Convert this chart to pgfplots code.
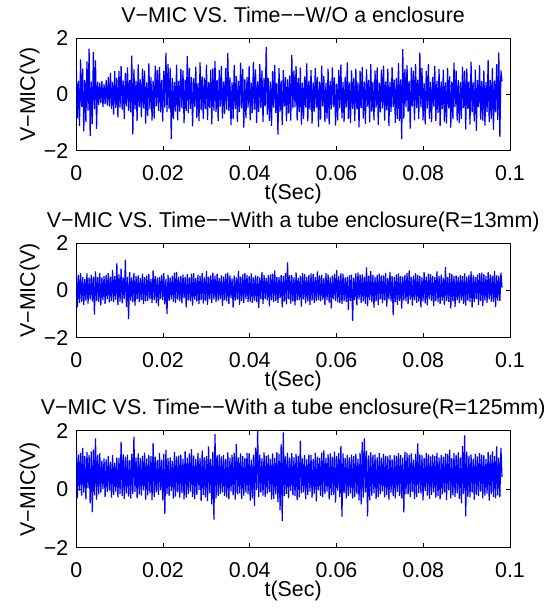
\documentclass[border=0pt]{standalone}
\usepackage{fontspec}
\setmainfont{Liberation Sans}
\usepackage{pgfplots}
\usepackage{pgfplotstable}
\pgfplotsset{compat=1.18}

% V-MIC samples (one every 0.000246 s)
\pgfplotstableread[row sep=\\]{v\\
1.02\\ -0.85\\ 0.48\\ -1.12\\ 1.25\\ -0.44\\ 0.92\\ -1.31\\ 0.51\\ -0.98\\ 1.18\\ -0.57\\ 1.63\\ -1.48\\ 0.46\\ -1.05\\ 1.52\\ -0.52\\ 1.21\\ -1.22\\
0.46\\ -0.38\\ 0.42\\ -0.31\\ 0.48\\ -0.45\\ 0.37\\ -0.34\\ 0.51\\ -0.39\\ 0.62\\ -0.43\\ 0.78\\ -0.51\\ 0.45\\ -0.72\\ 0.84\\ -0.48\\ 0.59\\ -0.81\\
0.83\\ -0.47\\ 1.02\\ -0.54\\ 0.49\\ -0.88\\ 0.77\\ -0.42\\ 0.96\\ -0.59\\ 0.51\\ -0.64\\ 1.38\\ -1.42\\ 0.89\\ -0.53\\ 0.48\\ -0.95\\ 1.07\\ -0.46\\
0.54\\ -0.81\\ 0.92\\ -0.49\\ 0.85\\ -1.04\\ 0.43\\ -0.77\\ 1.11\\ -0.52\\ 0.61\\ -0.93\\ 0.49\\ -0.86\\ 1.03\\ -0.41\\ 0.88\\ -0.58\\ 0.97\\ -0.64\\
0.52\\ -0.96\\ 0.84\\ -0.47\\ 1.48\\ -0.63\\ 1.09\\ -0.51\\ 0.93\\ -1.58\\ 0.59\\ -0.88\\ 0.44\\ -0.61\\ 1.06\\ -0.92\\ 0.48\\ -0.61\\ 0.91\\ -0.49\\
0.86\\ -1.02\\ 0.53\\ -0.59\\ 1.37\\ -0.66\\ 0.95\\ -0.51\\ 0.62\\ -1.13\\ 0.57\\ -0.44\\ 0.99\\ -0.83\\ 0.41\\ -0.95\\ 1.14\\ -0.56\\ 0.64\\ -0.88\\
0.59\\ -0.52\\ 1.06\\ -0.91\\ 0.44\\ -0.48\\ 0.88\\ -1.06\\ 0.93\\ -0.57\\ 1.19\\ -0.62\\ 0.51\\ -0.95\\ 0.87\\ -0.43\\ 1.02\\ -0.86\\ 0.46\\ -0.69\\
0.94\\ -0.54\\ 1.47\\ -0.59\\ 0.61\\ -1.09\\ 0.43\\ -0.88\\ 1.05\\ -0.51\\ 0.65\\ -0.97\\ 0.48\\ -0.62\\ 1.13\\ -0.49\\ 0.91\\ -1.18\\ 0.55\\ -0.84\\
0.63\\ -0.47\\ 1.01\\ -0.92\\ 0.42\\ -0.66\\ 1.16\\ -0.54\\ 0.89\\ -1.02\\ 0.47\\ -0.63\\ 1.08\\ -0.49\\ 0.86\\ -0.97\\ 0.59\\ -0.42\\ 1.69\\ -0.72\\
0.58\\ -0.94\\ 0.46\\ -1.12\\ 0.83\\ -0.47\\ 1.05\\ -0.65\\ 0.41\\ -1.43\\ 0.94\\ -0.61\\ 0.49\\ -1.09\\ 0.87\\ -0.43\\ 0.62\\ -0.96\\ 0.54\\ -0.67\\
0.67\\ -0.93\\ 1.41\\ -0.49\\ 0.85\\ -0.44\\ 1.01\\ -0.92\\ 0.58\\ -0.63\\ 0.96\\ -1.07\\ 0.42\\ -0.88\\ 0.64\\ -0.46\\ 1.11\\ -0.95\\ 0.49\\ -0.54\\
0.87\\ -1.04\\ 0.43\\ -0.61\\ 0.94\\ -0.47\\ 0.62\\ -1.15\\ 0.46\\ -0.89\\ 1.03\\ -0.42\\ 0.65\\ -0.98\\ 0.41\\ -0.86\\ 0.92\\ -1.06\\ 0.48\\ -0.53\\
0.96\\ -0.44\\ 0.61\\ -1.11\\ 0.39\\ -0.92\\ 0.87\\ -0.49\\ 1.07\\ -0.85\\ 0.44\\ -0.97\\ 0.63\\ -0.46\\ 1.14\\ -0.88\\ 0.42\\ -1.02\\ 0.86\\ -0.51\\
0.59\\ -0.95\\ 0.91\\ -0.53\\ 0.43\\ -1.17\\ 0.84\\ -0.48\\ 0.98\\ -0.86\\ 0.46\\ -1.05\\ 0.89\\ -0.43\\ 0.52\\ -0.99\\ 1.08\\ -0.61\\ 0.44\\ -0.92\\
0.85\\ -0.47\\ 0.96\\ -1.08\\ 0.42\\ -0.64\\ 0.88\\ -0.49\\ 1.03\\ -0.93\\ 0.47\\ -0.56\\ 0.91\\ -1.12\\ 0.45\\ -0.62\\ 0.97\\ -0.44\\ 0.53\\ -1.01\\
0.59\\ -0.88\\ 1.12\\ -0.95\\ 0.54\\ -1.59\\ 1.61\\ -0.86\\ 0.91\\ -0.44\\ 1.04\\ -0.62\\ 0.47\\ -1.21\\ 0.96\\ -0.43\\ 0.85\\ -0.92\\ 1.09\\ -0.48\\
0.53\\ -0.87\\ 1.49\\ -0.46\\ 0.95\\ -0.92\\ 0.41\\ -1.06\\ 0.84\\ -0.49\\ 1.09\\ -0.87\\ 0.45\\ -0.98\\ 0.63\\ -0.42\\ 1.02\\ -0.94\\ 0.48\\ -0.65\\
0.91\\ -1.13\\ 0.46\\ -0.52\\ 0.88\\ -0.97\\ 0.43\\ -1.04\\ 0.95\\ -0.49\\ 0.64\\ -1.18\\ 0.47\\ -0.88\\ 1.13\\ -0.44\\ 0.86\\ -0.93\\ 0.51\\ -1.02\\
0.44\\ -0.87\\ 0.99\\ -0.48\\ 0.85\\ -1.24\\ 0.92\\ -0.51\\ 0.47\\ -1.07\\ 1.17\\ -0.64\\ 0.43\\ -0.96\\ 0.88\\ -1.29\\ 0.51\\ -0.45\\ 1.04\\ -0.89\\
0.48\\ -0.93\\ 0.86\\ -1.11\\ 0.44\\ -0.62\\ 1.23\\ -0.97\\ 0.51\\ -0.88\\ 0.95\\ -1.26\\ 0.49\\ -0.64\\ 1.08\\ -0.91\\ 1.49\\ -1.52\\ 0.86\\ 0.47\\
}\dataA

\pgfplotstableread[row sep=\\]{v\\
0.88\\ -0.71\\ 0.65\\ -0.52\\ 0.74\\ -0.48\\ 0.57\\ -0.61\\ 0.49\\ -0.43\\ 0.72\\ -0.56\\ 0.54\\ -0.38\\ 0.66\\ -0.46\\ 0.59\\ -1.02\\ 0.81\\ -0.45\\
0.57\\ -0.48\\ 0.74\\ -0.63\\ 0.55\\ -0.41\\ 0.62\\ -0.57\\ 0.66\\ -0.36\\ 0.73\\ -0.51\\ 0.59\\ -0.44\\ 0.86\\ -0.49\\ 0.61\\ -0.39\\ 1.15\\ -0.62\\
0.68\\ -0.47\\ 0.93\\ -0.54\\ 0.55\\ -0.36\\ 1.31\\ -0.69\\ 0.57\\ -1.21\\ 0.78\\ -0.43\\ 0.56\\ -0.49\\ 0.73\\ -0.64\\ 0.61\\ -0.38\\ 0.64\\ -0.49\\
0.52\\ -0.42\\ 0.71\\ -0.58\\ 0.57\\ -0.46\\ 0.63\\ -0.44\\ 0.69\\ -0.37\\ 0.48\\ -0.52\\ 0.85\\ -0.41\\ 0.61\\ -0.53\\ 0.54\\ -0.67\\ 0.58\\ -0.36\\
0.66\\ -0.41\\ 0.73\\ -0.59\\ 0.49\\ -0.99\\ 0.67\\ -0.44\\ 0.54\\ -0.38\\ 0.62\\ -0.48\\ 0.76\\ -0.52\\ 0.79\\ -0.39\\ 0.58\\ -0.45\\ 0.62\\ -0.55\\
0.67\\ -0.33\\ 0.58\\ -0.71\\ 0.69\\ -0.42\\ 0.55\\ -0.46\\ 0.71\\ -0.64\\ 0.74\\ -0.39\\ 0.53\\ -0.47\\ 0.66\\ -0.58\\ 0.62\\ -0.41\\ 0.75\\ -0.55\\
0.55\\ -0.44\\ 0.82\\ -0.61\\ 0.59\\ -0.37\\ 0.64\\ -0.52\\ 0.76\\ -0.38\\ 0.63\\ -0.49\\ 0.71\\ -0.43\\ 0.52\\ -0.37\\ 0.64\\ -0.65\\ 0.59\\ -0.42\\
0.71\\ -0.46\\ 0.76\\ -0.58\\ 0.64\\ -0.32\\ 0.51\\ -0.72\\ 0.63\\ -0.43\\ 0.55\\ -0.39\\ 0.83\\ -0.61\\ 0.59\\ -0.44\\ 0.68\\ -0.53\\ 0.74\\ -0.35\\
0.66\\ -0.48\\ 0.61\\ -0.47\\ 0.72\\ -0.52\\ 0.56\\ -0.43\\ 0.64\\ -0.49\\ 0.61\\ -0.74\\ 0.55\\ -0.37\\ 0.79\\ -0.57\\ 0.66\\ -0.36\\ 0.53\\ -0.42\\
0.65\\ -0.67\\ 0.68\\ -0.42\\ 0.71\\ -0.49\\ 0.84\\ -0.44\\ 0.58\\ -0.52\\ 0.57\\ -0.33\\ 0.65\\ -0.71\\ 0.61\\ -0.47\\ 0.73\\ -0.59\\ 1.19\\ -0.38\\
0.64\\ -0.56\\ 0.65\\ -0.47\\ 0.56\\ -0.63\\ 0.77\\ -0.42\\ 0.53\\ -0.41\\ 0.62\\ -0.68\\ 0.74\\ -0.37\\ 0.69\\ -0.54\\ 0.58\\ -0.45\\ 0.66\\ -0.61\\
0.72\\ -0.43\\ 0.69\\ -0.52\\ 0.57\\ -0.45\\ 0.81\\ -0.41\\ 0.64\\ -0.46\\ 0.66\\ -0.39\\ 0.51\\ -0.62\\ 0.74\\ -0.41\\ 0.68\\ -0.51\\ 0.55\\ -0.76\\
0.63\\ -0.37\\ 0.69\\ -0.44\\ 0.86\\ -0.49\\ 0.61\\ -0.53\\ 0.72\\ -0.58\\ 0.71\\ -0.46\\ 0.56\\ -0.48\\ 0.59\\ -0.82\\ 0.65\\ -0.44\\ 0.67\\ -1.29\\
0.54\\ -0.41\\ 0.72\\ -0.63\\ 0.76\\ -0.38\\ 0.67\\ -0.52\\ 0.68\\ -0.46\\ 0.59\\ -0.57\\ 0.98\\ -0.66\\ 0.63\\ -0.41\\ 0.82\\ -0.49\\ 0.66\\ -0.73\\
0.58\\ -0.45\\ 0.66\\ -0.62\\ 0.71\\ -0.37\\ 0.64\\ -0.55\\ 0.64\\ -0.42\\ 0.73\\ -0.68\\ 0.52\\ -0.38\\ 0.79\\ -0.46\\ 0.61\\ -1.04\\ 0.57\\ -0.49\\
0.68\\ -0.61\\ 0.72\\ -0.44\\ 0.61\\ -0.77\\ 0.59\\ -0.42\\ 0.66\\ -0.45\\ 0.73\\ -0.58\\ 0.85\\ -0.39\\ 0.57\\ -0.64\\ 0.63\\ -0.41\\ 0.74\\ -0.52\\
0.66\\ -0.47\\ 0.62\\ -0.71\\ 0.55\\ -0.46\\ 0.78\\ -0.55\\ 0.59\\ -0.63\\ 0.71\\ -0.37\\ 0.69\\ -0.44\\ 0.62\\ -0.66\\ 0.57\\ -0.44\\ 0.81\\ -0.49\\
0.62\\ -0.58\\ 0.67\\ -0.43\\ 0.54\\ -0.61\\ 0.99\\ -0.45\\ 0.57\\ -0.48\\ 0.73\\ -0.76\\ 0.69\\ -0.46\\ 0.61\\ -0.69\\ 0.64\\ -0.42\\ 0.58\\ -0.53\\
0.65\\ -0.42\\ 0.61\\ -0.57\\ 0.72\\ -0.64\\ 0.59\\ -0.43\\ 0.66\\ -0.48\\ 0.81\\ -0.72\\ 0.64\\ -0.49\\ 0.58\\ -0.36\\ 0.67\\ -0.61\\ 0.74\\ -0.45\\
0.76\\ -0.66\\ 0.69\\ -0.43\\ 0.61\\ -0.52\\ 0.78\\ -0.38\\ 0.67\\ -0.47\\ 0.63\\ -0.48\\ 0.82\\ -0.69\\ 0.64\\ -0.43\\ 0.62\\ -0.45\\ 0.76\\ 0.12\\
}\dataB

\pgfplotstableread[row sep=\\]{v\\
1.52\\ -0.31\\ 1.18\\ -0.05\\ 1.24\\ -0.22\\ 1.41\\ -0.12\\ 1.13\\ -0.35\\ 1.27\\ 0.04\\ 1.16\\ -0.48\\ 1.29\\ -0.78\\ 1.36\\ -0.21\\ 1.74\\ -0.36\\
1.17\\ -0.18\\ 1.22\\ -0.12\\ 0.98\\ 0.01\\ 1.05\\ -0.27\\ 1.02\\ -0.09\\ 1.14\\ -0.05\\ 0.93\\ -0.29\\ 1.16\\ -0.19\\ 0.91\\ -0.08\\ 1.08\\ -0.28\\
1.07\\ -0.16\\ 1.62\\ -0.24\\ 1.19\\ -0.33\\ 1.11\\ -0.14\\ 1.18\\ -0.25\\ 0.99\\ -0.32\\ 1.21\\ -0.17\\ 1.79\\ -0.09\\ 1.08\\ -0.31\\ 1.22\\ -0.18\\
1.06\\ -0.22\\ 1.14\\ -0.04\\ 1.25\\ -0.36\\ 1.05\\ -0.21\\ 1.16\\ -0.14\\ 1.13\\ -0.37\\ 1.58\\ -0.27\\ 1.11\\ -0.11\\ 0.99\\ -0.19\\ 1.23\\ -0.04\\
1.01\\ -0.38\\ 1.21\\ -0.84\\ 1.34\\ -0.16\\ 1.06\\ -0.23\\ 1.09\\ -0.06\\ 0.97\\ -0.32\\ 1.27\\ -0.25\\ 1.12\\ -0.11\\ 1.15\\ -0.29\\ 1.18\\ -0.13\\
1.04\\ -0.35\\ 1.31\\ -0.29\\ 1.08\\ -0.17\\ 1.22\\ -0.08\\ 1.37\\ -0.26\\ 1.15\\ -0.34\\ 1.03\\ -0.19\\ 1.24\\ -0.02\\ 1.07\\ -0.41\\ 1.32\\ -0.19\\
1.09\\ -0.28\\ 1.13\\ -0.41\\ 1.46\\ -0.13\\ 1.04\\ -0.52\\ 1.28\\ -1.04\\ 1.88\\ -0.31\\ 1.16\\ -0.23\\ 1.19\\ -0.16\\ 1.12\\ -0.11\\ 1.17\\ -0.24\\
1.03\\ -0.28\\ 1.26\\ -0.35\\ 1.07\\ -0.07\\ 1.18\\ -0.21\\ 1.24\\ -0.36\\ 1.55\\ -0.18\\ 1.09\\ -0.14\\ 1.22\\ -0.33\\ 1.13\\ -0.22\\ 1.06\\ -0.12\\
1.24\\ -0.17\\ 1.23\\ -0.39\\ 1.01\\ -0.31\\ 1.18\\ -0.58\\ 1.42\\ -0.03\\ 1.99\\ -0.27\\ 1.18\\ -0.12\\ 1.05\\ -0.22\\ 1.26\\ -0.26\\ 1.14\\ -0.15\\
1.17\\ -0.09\\ 1.04\\ -0.36\\ 1.22\\ -0.33\\ 1.07\\ -0.18\\ 1.27\\ -0.44\\ 1.21\\ -0.71\\ 1.53\\ -1.09\\ 1.94\\ -0.24\\ 1.12\\ -0.16\\ 1.25\\ -0.31\\
1.08\\ -0.06\\ 1.23\\ -0.21\\ 1.09\\ -0.23\\ 1.21\\ -0.37\\ 1.14\\ -0.28\\ 1.66\\ -0.14\\ 1.05\\ -0.11\\ 1.16\\ -0.34\\ 1.02\\ -0.19\\ 1.19\\ -0.08\\
1.16\\ -0.29\\ 1.03\\ -0.15\\ 1.24\\ -0.42\\ 1.11\\ -0.04\\ 1.07\\ -0.23\\ 1.25\\ -0.27\\ 1.33\\ -0.16\\ 1.07\\ -0.08\\ 1.19\\ -0.35\\ 1.22\\ -0.21\\
1.11\\ -0.19\\ 1.28\\ -0.46\\ 1.14\\ -0.05\\ 1.23\\ -0.27\\ 1.48\\ -0.94\\ 1.22\\ -0.13\\ 1.06\\ -0.31\\ 1.17\\ -0.24\\ 1.09\\ -0.14\\ 1.18\\ -0.32\\
1.13\\ -0.26\\ 1.21\\ -0.17\\ 1.04\\ -0.38\\ 1.25\\ -0.52\\ 1.61\\ -0.29\\ 1.74\\ -0.11\\ 1.32\\ -0.93\\ 1.16\\ -0.38\\ 1.26\\ -0.22\\ 1.17\\ -0.14\\
1.19\\ -0.33\\ 1.09\\ -0.26\\ 1.23\\ -0.17\\ 1.08\\ -0.07\\ 1.21\\ -0.28\\ 1.14\\ -0.19\\ 1.12\\ -0.36\\ 1.17\\ -0.12\\ 1.03\\ -0.24\\ 1.16\\ -0.31\\
1.15\\ -0.09\\ 1.23\\ -0.23\\ 1.17\\ -0.31\\ 1.08\\ -0.79\\ 1.28\\ -0.16\\ 1.24\\ -0.18\\ 1.17\\ -0.27\\ 1.22\\ -0.09\\ 1.01\\ -0.34\\ 1.21\\ -0.27\\
1.57\\ -0.13\\ 1.19\\ -0.15\\ 1.16\\ -0.38\\ 1.07\\ -0.06\\ 1.24\\ -0.22\\ 1.19\\ -0.33\\ 1.12\\ -0.19\\ 1.18\\ -0.11\\ 1.13\\ -0.29\\ 1.24\\ -0.24\\
1.08\\ -0.35\\ 1.17\\ -0.18\\ 1.11\\ -0.12\\ 1.22\\ -0.37\\ 1.21\\ -0.04\\ 1.35\\ -0.31\\ 1.06\\ -0.21\\ 1.23\\ -0.26\\ 1.17\\ -0.14\\ 1.26\\ -0.33\\
1.09\\ -0.48\\ 1.47\\ -0.17\\ 1.84\\ -0.93\\ 1.28\\ -0.26\\ 1.15\\ -0.28\\ 1.19\\ -0.12\\ 1.04\\ -0.36\\ 1.21\\ -0.19\\ 1.12\\ -0.24\\ 1.23\\ -0.08\\
1.18\\ -0.31\\ 1.16\\ -0.22\\ 1.03\\ -0.15\\ 1.28\\ -0.39\\ 1.16\\ -0.17\\ 1.29\\ -0.26\\ 1.14\\ -0.31\\ 1.46\\ -0.21\\ 1.07\\ -0.28\\ 1.41\\ 0.42\\
}\dataC

\pgfplotsset{
  every axis title shift=0pt,
  micaxis/.style={
    scale only axis,
    width=216.85pt,
    xmin=0, xmax=0.1, ymin=-2, ymax=2,
    xtick={0,0.02,0.04,0.06,0.08,0.1},
    xticklabels={0,0.02,0.04,0.06,0.08,0.1},
    ytick={-2,0,2},
    yticklabels={−2,0,2},
    tick align=inside,
    major tick length=2.2pt,
    axis line style={black, line width=0.5pt},
    every tick/.style={black, line width=0.5pt},
    font=\fontsize{10.7}{12.5}\selectfont,
    tick label style={font=\fontsize{10.7}{12.5}\selectfont},
    xticklabel style={anchor=base, yshift=-15pt},
    yticklabel style={xshift=-0.5pt},
    title style={at={(axis description cs:0.5,1)}, anchor=base, yshift=8pt, inner sep=0pt},
    xlabel={t(Sec)},
    xlabel style={at={(axis description cs:0.5,0)}, anchor=base, yshift=-24.5pt, inner sep=0pt},
    ylabel={V−MIC(V)},
    ylabel style={at={(axis description cs:-0.095,0.5)}, anchor=base, rotate=0, inner sep=0pt},
    anchor=south west,
  },
  micline/.style={blue, line width=0.6pt, no markers, sharp plot, line join=miter, miter limit=2},
}

\begin{document}
\begin{tikzpicture}
\path[use as bounding box] (0,0) rectangle (278pt,304.5pt);

\begin{axis}[micaxis, at={(38.15pt,229.15pt)}, height=56.2pt,
  title={V−MIC VS. Time−−W/O a enclosure}]
\addplot[micline] table[x expr=\coordindex*0.000246, y=v] {\dataA};
\end{axis}

\begin{axis}[micaxis, at={(38.15pt,135.65pt)}, height=47.2pt,
  title={V−MIC VS. Time−−With a tube enclosure(R=13mm)}]
\addplot[micline] table[x expr=\coordindex*0.000246, y=v] {\dataB};
\end{axis}

\begin{axis}[micaxis, at={(38.15pt,30.65pt)}, height=58.5pt,
  title={V−MIC VS. Time−−With a tube enclosure(R=125mm)}]
\addplot[micline] table[x expr=\coordindex*0.000246, y=v] {\dataC};
\end{axis}
\end{tikzpicture}
\end{document}
